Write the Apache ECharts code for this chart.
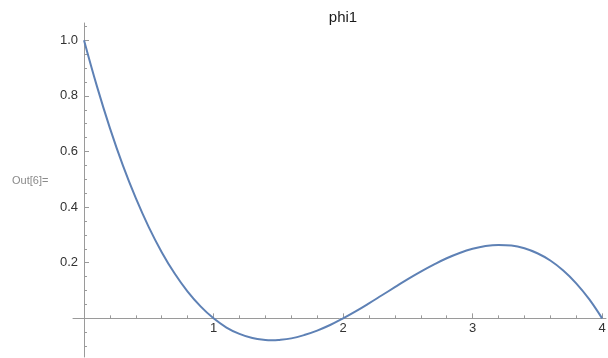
<!DOCTYPE html>
<html>
<head>
<meta charset="utf-8">
<script src="https://cdn.jsdelivr.net/npm/echarts@6/dist/echarts.min.js"></script>
<style>
  html, body { margin: 0; padding: 0; background: #ffffff; }
  #chart { width: 608px; height: 358px; }
</style>
</head>
<body>
<div id="chart"></div>
<script>
// Sample positions along the x axis and the phi1 values at each one
const xValues = [0, 0.1, 0.2, 0.3, 0.4, 0.5, 0.6, 0.7, 0.8, 0.9,
                 1.0, 1.1, 1.2, 1.3, 1.4, 1.45, 1.5, 1.6, 1.7, 1.8, 1.9,
                 2.0, 2.1, 2.2, 2.3, 2.4, 2.5, 2.6, 2.7, 2.8, 2.9,
                 3.0, 3.1, 3.2, 3.3, 3.4, 3.5, 3.6, 3.7, 3.8, 3.9, 4.0];
const phi1Values = [1.000, 0.834, 0.684, 0.550, 0.432, 0.328, 0.238, 0.161, 0.096, 0.043,
                    0.000, -0.033, -0.056, -0.071, -0.078, -0.079, -0.078, -0.072, -0.060, -0.044, -0.024,
                    0.000, 0.026, 0.054, 0.083, 0.112, 0.141, 0.168, 0.193, 0.216, 0.235,
                    0.250, 0.260, 0.264, 0.262, 0.252, 0.234, 0.208, 0.172, 0.126, 0.069, 0.000];

// Tick marks and labels
const xMajorTicks = [0, 1, 2, 3, 4];
const xTickLabels = [1, 2, 3, 4];
const yMajorTicks = [0, 0.2, 0.4, 0.6, 0.8, 1.0];
const yTickLabels = [0.2, 0.4, 0.6, 0.8, 1.0];

const axisColor = '#9a9a9a';
const labelColor = '#333333';
const fontFamily = '"Liberation Sans", Arial, sans-serif';

const chart = echarts.init(document.getElementById('chart'), null, { renderer: 'canvas' });

chart.setOption({
  animation: false,
  backgroundColor: '#ffffff',
  title: [
    {
      text: 'phi1',
      left: 338, top: 5,
      textAlign: 'center',
      textStyle: { fontFamily, fontSize: 15, fontWeight: 'normal', color: '#1a1a1a' }
    },
    {
      text: 'Out[6]=',
      left: 7, top: 170,
      textStyle: { fontFamily, fontSize: 11, fontWeight: 'normal', color: '#8a8a8a' }
    }
  ],
  grid: { left: 73, top: 23, width: 533, height: 334, containLabel: false, outerBoundsMode: 'none' },
  xAxis: {
    type: 'value',
    min: -0.085,
    max: 4.03,
    axisLine: { onZero: true, lineStyle: { color: axisColor, width: 1 } },
    axisTick: {
      show: true, inside: true, length: 5,
      customValues: xMajorTicks,
      lineStyle: { color: axisColor, width: 1 }
    },
    minorTick: { show: true, splitNumber: 5, length: 3, lineStyle: { color: axisColor, width: 1 } },
    // labels sit just under the zero line, measured up from the grid's bottom edge
    axisLabel: {
      customValues: xTickLabels,
      inside: true,
      margin: 22,
      color: labelColor, fontFamily, fontSize: 13,
      formatter: v => String(v)
    },
    splitLine: { show: false },
    minorSplitLine: { show: false }
  },
  yAxis: {
    type: 'value',
    min: -0.139,
    max: 1.062,
    axisLine: { onZero: true, lineStyle: { color: axisColor, width: 1 } },
    axisTick: {
      show: true, inside: true, length: 5,
      customValues: yMajorTicks,
      lineStyle: { color: axisColor, width: 1 }
    },
    minorTick: { show: true, splitNumber: 4, length: 3, lineStyle: { color: axisColor, width: 1 } },
    // labels measured from the grid's left edge, ending just left of the zero line
    axisLabel: {
      customValues: yTickLabels,
      margin: -5,
      color: labelColor, fontFamily, fontSize: 13,
      formatter: v => v.toFixed(1)
    },
    splitLine: { show: false },
    minorSplitLine: { show: false }
  },
  series: [{
    type: 'line',
    data: xValues.map((x, i) => [x, phi1Values[i]]),
    smooth: 0.4,
    showSymbol: false,
    clip: false,
    lineStyle: { color: '#5e81b5', width: 2 },
    z: 3
  }]
});
</script>
</body>
</html>
